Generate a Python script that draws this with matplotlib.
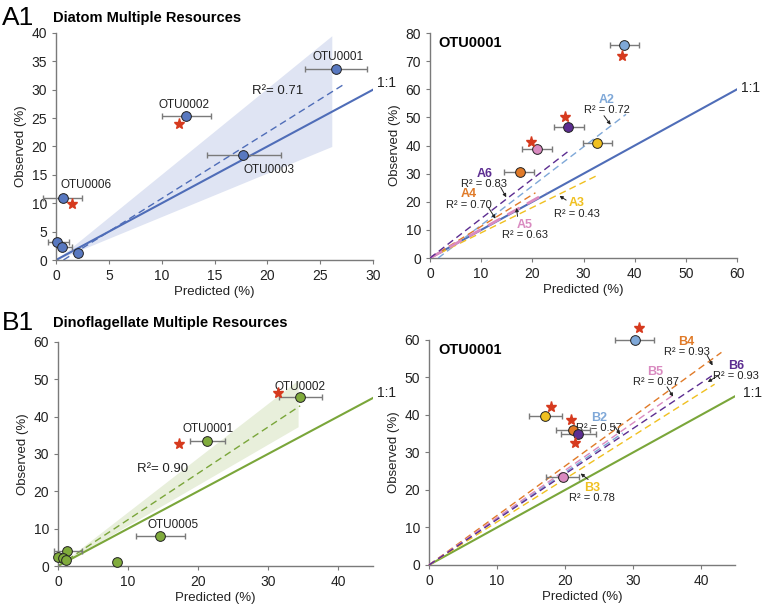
import matplotlib
matplotlib.use("Agg")
import matplotlib.pyplot as plt
import numpy as np

plt.rcParams['font.family'] = ['Liberation Sans', 'DejaVu Sans']
plt.rcParams['font.size'] = 9

# ---- colours
blue = '#4f6db8'
blue_pt = '#5878c0'
green = '#7aa63a'
green_pt = '#80ab3c'
lblue = '#7fa8d8'
purple = '#5c2d91'
orange = '#e07a28'
pink = '#d98ac0'
yellow = '#f0c020'
red = '#d63a1e'
grey = '#7a7a7a'

# ---- A1: diatom multiple resources
a1_x = [26.5, 12.3, 17.7, 0.7, 0.1, 0.6, 2.1]
a1_y = [33.6, 25.4, 18.5, 11.0, 3.1, 2.3, 1.2]
a1_xlo = [23.6, 10.0, 14.3, -1.2, -0.8, 0.6, 2.1]
a1_xhi = [29.4, 14.7, 21.3, 2.5, 1.2, 1.5, 2.1]
a1_star_x = [11.6, 1.5]
a1_star_y = [23.9, 9.8]
a1_labels = ['OTU0001', 'OTU0002', 'OTU0003', 'OTU0006']
a1_lab_x = [26.7, 12.1, 20.2, 2.8]
a1_lab_y = [35.8, 27.3, 15.9, 13.2]
a1_fit_x = [0.7, 27.3]
a1_fit_y = [0.0, 31.0]
a1_band_x = [0.0, 26.1]
a1_band_lo = [0.0, 20.0]
a1_band_hi = [0.0, 39.5]

# ---- A2: OTU0001 diatom, per-experiment
a2_names = ['A2', 'A3', 'A4', 'A5', 'A6']
a2_cols = [lblue, yellow, orange, pink, purple]
a2_x = [38.0, 32.7, 17.5, 21.0, 27.0]
a2_y = [75.7, 41.0, 30.5, 38.6, 46.5]
a2_xlo = [35.2, 29.8, 14.5, 18.0, 24.3]
a2_xhi = [40.9, 35.6, 20.4, 23.9, 30.1]
a2_star_x = [37.6, 19.7, 26.4]
a2_star_y = [72.0, 41.4, 50.2]
a2_fit_x0 = [1.6, 0.0, 0.0, 0.0, 0.0]
a2_fit_x1 = [38.3, 32.6, 20.6, 22.8, 27.2]
a2_fit_y1 = [51.1, 29.3, 23.2, 23.2, 38.2]
a2_r2 = ['0.72', '0.43', '0.70', '0.63', '0.83']
a2_txt_x = [34.6, 28.7, 7.6, 18.5, 10.6]
a2_txt_y = [56.2, 19.4, 22.6, 11.7, 29.8]
a2_arr_tail = [(34.0, 50.6), (26.6, 20.6), (11.4, 18.0), (17.1, 14.8), (13.8, 25.2)]
a2_arr_head = [(35.3, 47.4), (25.3, 22.1), (12.8, 14.0), (16.9, 17.8), (14.9, 21.6)]

# ---- B1: dinoflagellate multiple resources
b1_x = [34.6, 21.3, 14.6, 8.5, 1.3, 0.0, 0.7, 1.2]
b1_y = [45.2, 33.5, 8.0, 1.1, 4.0, 2.5, 2.1, 1.5]
b1_xlo = [31.6, 18.9, 11.2, 8.5, -0.6, 0.0, 0.7, 1.2]
b1_xhi = [37.7, 23.9, 18.2, 8.5, 3.4, 0.0, 0.7, 1.2]
b1_star_x = [31.4, 17.3]
b1_star_y = [46.3, 32.6]
b1_labels = ['OTU0002', 'OTU0001', 'OTU0005']
b1_lab_x = [34.6, 21.5, 16.5]
b1_lab_y = [48.0, 36.6, 10.9]
b1_fit_x = [0.0, 34.6]
b1_fit_y = [0.0, 42.9]
b1_band_x = [0.0, 34.3]
b1_band_lo = [0.0, 37.3]
b1_band_hi = [0.0, 49.8]

# ---- B2: OTU0001 dinoflagellate, per-experiment
b2_names = ['B2', 'B3', 'B4', 'B5', 'B6']
b2_cols = [lblue, yellow, orange, pink, purple]
b2_x = [30.3, 17.1, 21.2, 19.7, 21.9]
b2_y = [60.1, 39.8, 36.0, 23.5, 34.8]
b2_xlo = [27.4, 14.7, 18.7, 17.2, 19.4]
b2_xhi = [33.1, 19.5, 23.7, 22.1, 24.6]
b2_star_x = [30.9, 17.9, 20.9, 21.5]
b2_star_y = [63.1, 42.2, 38.7, 32.4]
b2_fit_x1 = [28.5, 42.0, 43.0, 35.9, 41.8]
b2_fit_y1 = [35.2, 48.2, 56.7, 45.3, 50.7]
b2_r2 = ['0.57', '0.78', '0.93', '0.87', '0.93']
b2_txt_x = [25.0, 24.0, 37.9, 33.3, 45.2]
b2_txt_y = [39.1, 20.6, 59.4, 51.4, 53.1]
b2_arr_tail = [(27.2, 37.3), (23.4, 22.8), (40.9, 55.9), (35.0, 47.5), (42.6, 50.6)]
b2_arr_head = [(28.1, 34.8), (22.3, 24.4), (41.7, 53.2), (35.9, 44.9), (41.0, 48.8)]

fig = plt.figure(figsize=(7.62, 6.04), dpi=100)


def style(ax, xmax, ymax, xstep, ystep):
    ax.set_xlim(0, xmax)
    ax.set_ylim(0, ymax)
    ax.set_xticks(np.arange(0, xmax + 0.1, xstep))
    ax.set_yticks(np.arange(0, ymax + 0.1, ystep))
    for s in ['top', 'right']:
        ax.spines[s].set_visible(False)
    for s in ['left', 'bottom']:
        ax.spines[s].set_color(grey)
        ax.spines[s].set_linewidth(1.0)
    ax.tick_params(colors=grey, labelcolor='#222222', labelsize=10, length=3, width=0.8)
    ax.set_xlabel('Predicted (%)', fontsize=9.5, color='#222222', labelpad=2)
    ax.set_ylabel('Observed (%)', fontsize=9.5, color='#222222', labelpad=3)


def points(ax, x, y, xlo, xhi, cols):
    for i in range(len(x)):
        if xhi[i] > xlo[i]:
            ax.errorbar(x[i], y[i], xerr=[[x[i] - xlo[i]], [xhi[i] - x[i]]], fmt='none',
                        ecolor=grey, elinewidth=1, capsize=2, capthick=1, clip_on=False, zorder=3)
        ax.plot(x[i], y[i], 'o', ms=7, mfc=cols[i], mec='#222222', mew=0.7,
                clip_on=False, zorder=5)


def stars(ax, x, y):
    ax.plot(x, y, '*', ms=8, color=red, mec=red, zorder=6, clip_on=False)


def arrow(ax, head, tail):
    ax.annotate('', xy=head, xytext=tail, annotation_clip=False,
                arrowprops=dict(arrowstyle='-|>', color='#222222', lw=0.7,
                                mutation_scale=5, shrinkA=0, shrinkB=0))


# ===== A1
ax = fig.add_axes([0.0735, 0.5695, 0.416, 0.376])
style(ax, 30, 40, 5, 5)
ax.fill_between(a1_band_x, a1_band_lo, a1_band_hi, color='#dfe4f3', lw=0, zorder=1)
ax.plot([0, 30], [0, 30], color=blue, lw=1.5, zorder=2)
ax.plot(a1_fit_x, a1_fit_y, '--', color=blue, lw=1, dashes=(5, 3), zorder=2)
points(ax, a1_x, a1_y, a1_xlo, a1_xhi, [blue_pt] * len(a1_x))
stars(ax, a1_star_x, a1_star_y)
for t, x, y in zip(a1_labels, a1_lab_x, a1_lab_y):
    ax.text(x, y, t, ha='center', va='center', fontsize=8.5, color='#222222')
ax.text(21.0, 29.8, 'R²= 0.71', ha='center', va='center', fontsize=9.5, color='#222222')
ax.text(30.4, 31.2, '1:1', ha='left', va='center', fontsize=10, color='#222222', clip_on=False)
fig.text(0.002, 0.97, 'A1', fontsize=19, ha='left', va='center')
fig.text(0.07, 0.97, 'Diatom Multiple Resources', fontsize=10.5, weight='bold', ha='left', va='center')

# ===== A2
ax = fig.add_axes([0.5643, 0.5728, 0.403, 0.3725])
style(ax, 60, 80, 10, 10)
ax.plot([0, 60], [0, 60], color=blue, lw=1.5, zorder=2)
for i in range(len(a2_names)):
    lw = 2 if a2_names[i] == 'A5' else 1
    ax.plot([a2_fit_x0[i], a2_fit_x1[i]], [0, a2_fit_y1[i]], '--', color=a2_cols[i],
            lw=lw, dashes=(5, 3), zorder=3)
    ax.text(a2_txt_x[i], a2_txt_y[i], a2_names[i], ha='center', va='center', fontsize=9,
            weight='bold', color=a2_cols[i])
    ax.text(a2_txt_x[i], a2_txt_y[i] - 3.6, 'R² = ' + a2_r2[i], ha='center', va='center',
            fontsize=8, color='#222222')
    arrow(ax, a2_arr_head[i], a2_arr_tail[i])
points(ax, a2_x, a2_y, a2_xlo, a2_xhi, a2_cols)
stars(ax, a2_star_x, a2_star_y)
ax.text(1.6, 76.6, 'OTU0001', ha='left', va='center', fontsize=10.5, weight='bold')
ax.text(60.8, 60.6, '1:1', ha='left', va='center', fontsize=10, color='#222222', clip_on=False)

# ===== B1
ax = fig.add_axes([0.0761, 0.0629, 0.4134, 0.371])
style(ax, 45, 60, 10, 10)
ax.fill_between(b1_band_x, b1_band_lo, b1_band_hi, color='#e8efdb', lw=0, zorder=1)
ax.plot([0, 45], [0, 45], color=green, lw=1.5, zorder=2)
ax.plot(b1_fit_x, b1_fit_y, '--', color=green, lw=1, dashes=(5, 3), zorder=2)
points(ax, b1_x, b1_y, b1_xlo, b1_xhi, [green_pt] * len(b1_x))
stars(ax, b1_star_x, b1_star_y)
for t, x, y in zip(b1_labels, b1_lab_x, b1_lab_y):
    ax.text(x, y, t, ha='center', va='center', fontsize=8.5, color='#222222')
ax.text(15.0, 25.9, 'R²= 0.90', ha='center', va='center', fontsize=9.5, color='#222222')
ax.text(45.6, 46.3, '1:1', ha='left', va='center', fontsize=10, color='#222222', clip_on=False)
fig.text(0.002, 0.465, 'B1', fontsize=19, ha='left', va='center')
fig.text(0.07, 0.465, 'Dinoflagellate Multiple Resources', fontsize=10.5, weight='bold',
         ha='left', va='center')

# ===== B2
ax = fig.add_axes([0.563, 0.0646, 0.4016, 0.3725])
style(ax, 45, 60, 10, 10)
ax.plot([0, 45], [0, 45], color=green, lw=1.5, zorder=2)
for i in range(len(b2_names)):
    ax.plot([0, b2_fit_x1[i]], [0, b2_fit_y1[i]], '--', color=b2_cols[i],
            lw=1, dashes=(5, 3), zorder=3, clip_on=False)
    ax.text(b2_txt_x[i], b2_txt_y[i], b2_names[i], ha='center', va='center', fontsize=9,
            weight='bold', color=b2_cols[i], clip_on=False)
    ax.text(b2_txt_x[i], b2_txt_y[i] - 2.7, 'R² = ' + b2_r2[i], ha='center', va='center',
            fontsize=8, color='#222222', clip_on=False)
    arrow(ax, b2_arr_head[i], b2_arr_tail[i])
points(ax, b2_x, b2_y, b2_xlo, b2_xhi, b2_cols)
stars(ax, b2_star_x, b2_star_y)
ax.text(1.4, 57.3, 'OTU0001', ha='left', va='center', fontsize=10.5, weight='bold')
ax.text(46.2, 45.8, '1:1', ha='left', va='center', fontsize=10, color='#222222', clip_on=False)

fig.savefig('out.png', dpi=100)
